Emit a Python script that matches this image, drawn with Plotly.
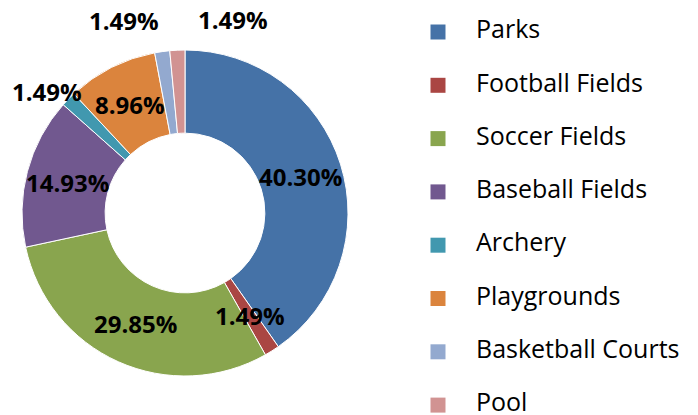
import math
import plotly.graph_objects as go

# facilities and their share of the total (percent)
categories = ["Parks", "Football Fields", "Soccer Fields", "Baseball Fields",
              "Archery", "Playgrounds", "Basketball Courts", "Pool"]
percents = [40.30, 1.49, 29.85, 14.93, 1.49, 8.96, 1.49, 1.49]
colors = ["#4572A7", "#AA4643", "#89A54E", "#71588F",
          "#4198AF", "#DB843D", "#93A9CF", "#D19392"]

# pixel nudges for the labels that were dragged outside the ring
label_nudge = {"Archery": (-51, 37), "Basketball Courts": (-44, 72), "Pool": (54, 72)}

W, H = 698, 415
FONT = "Open Sans"

# donut placement (pixels)
cx, cy, r_out = 185, 213, 163
hole = 0.49
r_lab = r_out * (1 + hole) / 2

fig = go.Figure()
fig.add_trace(go.Pie(
    labels=categories,
    values=percents,
    marker=dict(colors=colors, line=dict(color="white", width=1)),
    hole=hole,
    sort=False,
    direction="clockwise",
    rotation=0,
    textinfo="none",
    hoverinfo="label+percent",
    showlegend=False,
    domain=dict(x=[(cx - r_out) / W, (cx + r_out) / W],
                y=[(H - cy - r_out) / H, (H - cy + r_out) / H]),
))

# legend drawn as a small category plot on the right: key squares + names
row = list(range(len(categories)))
fig.add_trace(go.Scatter(
    x=[0] * len(categories), y=row, mode="markers",
    marker=dict(symbol="square", size=15, color=colors, line=dict(width=0)),
    hoverinfo="skip", showlegend=False, cliponaxis=False,
))
fig.add_trace(go.Scatter(
    x=[1] * len(categories), y=row, mode="text", text=categories,
    textposition="middle right",
    textfont=dict(family=FONT, size=25, color="black"),
    hoverinfo="skip", showlegend=False, cliponaxis=False,
))

# percentage labels at slice middles
total = sum(percents)
acc = 0
annotations = []
for name, p in zip(categories, percents):
    mid = (acc + p / 2) / total * 2 * math.pi
    acc += p
    dx = r_lab * math.sin(mid)
    dy = r_lab * math.cos(mid)
    nx, ny = label_nudge.get(name, (0, 0))
    annotations.append(dict(
        x=cx / W, y=(H - cy) / H, xref="paper", yref="paper",
        xanchor="center", yanchor="middle",
        xshift=dx + nx, yshift=dy + ny, showarrow=False,
        text=f"{p:.2f}%",
        font=dict(family=FONT, size=24, color="black", weight="bold"),
    ))

# legend rows: first at 32 px from top, 53.3 px apart; key at x=438
row_top, row_gap = 32, 53.3
key_x, col_gap = 438, 38
x0 = 0.6
fig.update_layout(
    width=W, height=H,
    margin=dict(l=0, r=0, t=0, b=0),
    paper_bgcolor="white", plot_bgcolor="rgba(0,0,0,0)",
    xaxis=dict(visible=False, domain=[x0, 1],
               range=[(x0 * W - key_x) / col_gap, (W - key_x) / col_gap]),
    yaxis=dict(visible=False, domain=[0, 1],
               range=[(H - row_top) / row_gap, -row_top / row_gap]),
    font=dict(family=FONT, size=23, color="black"),
    annotations=annotations,
    showlegend=False,
)

# drop the browser's default page margin so the figure sits at the corner
fig.write_html("out.html", config={"displayModeBar": False},
               post_script="document.body.style.margin='0';")
